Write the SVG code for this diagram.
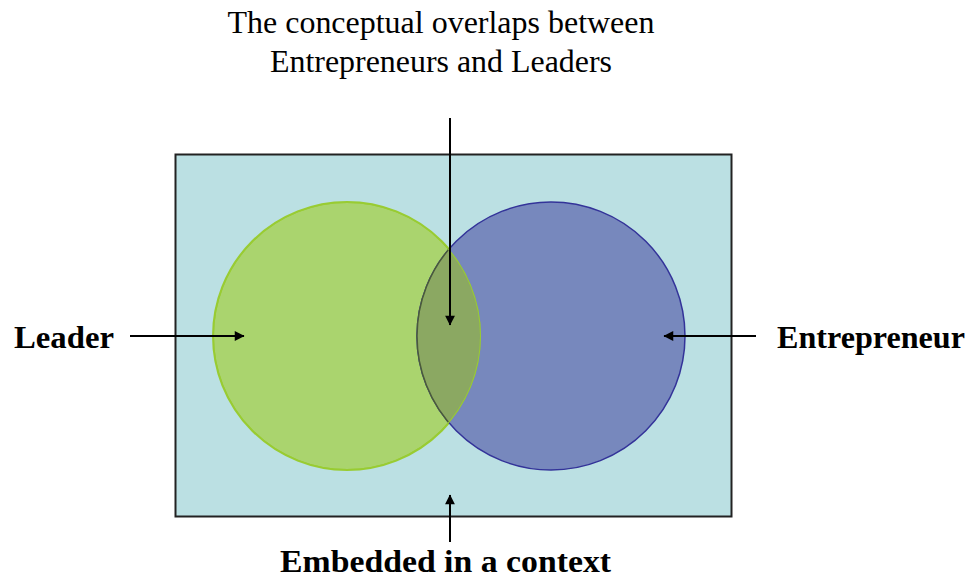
<svg xmlns="http://www.w3.org/2000/svg" width="973" height="579" viewBox="0 0 973 579">
<style>
.t{font-family:"Liberation Serif","Times New Roman",serif;fill:#000}
.b{font-weight:bold;font-size:32px}
.n{font-size:31px}
.c{stroke:#000;stroke-width:2;fill:none;marker-end:url(#ah)}
</style>
<defs>
<marker id="ah" viewBox="0 0 10 10" refX="9" refY="5" markerWidth="7" markerHeight="7" orient="auto" markerUnits="userSpaceOnUse" overflow="visible">
<path d="M0,0 L10,5 L0,10 z" fill="#000" transform="scale(1.4) translate(-3,-1.45)"/>
</marker>
<clipPath id="gc"><circle cx="347" cy="336" r="134"/></clipPath>
</defs>
<rect width="973" height="579" fill="#fff"/>
<g id="context">
<rect x="175.5" y="154.5" width="556" height="362" fill="#BBE0E3" stroke="#222" stroke-width="2"/>
</g>
<g id="leader-circle">
<circle cx="347" cy="336" r="134" fill="#AAD46E" stroke="#99CC33" stroke-width="2"/>
</g>
<g id="entrepreneur-circle">
<circle cx="551" cy="336" r="134" fill="#7788BD" stroke="#333399" stroke-width="1.5"/>
</g>
<g id="overlap">
<circle cx="551" cy="336" r="134" fill="#8BA862" stroke="#4a5a3a" stroke-width="1.5" clip-path="url(#gc)"/>
<circle cx="347" cy="336" r="134" fill="none" stroke="#99CC33" stroke-width="2" clip-path="url(#gc)"/>
</g>
<g id="connectors">
<line class="c" x1="450" y1="118" x2="450" y2="325"/>
<line class="c" x1="130" y1="336" x2="244" y2="336"/>
<line class="c" x1="756" y1="336" x2="664" y2="336"/>
<line class="c" x1="450" y1="542" x2="450" y2="495"/>
</g>
<g id="labels">
<text class="t n" x="441" y="33" text-anchor="middle" textLength="427" lengthAdjust="spacingAndGlyphs">The conceptual overlaps between</text>
<text class="t n" x="441" y="72" text-anchor="middle" textLength="342" lengthAdjust="spacingAndGlyphs">Entrepreneurs and Leaders</text>
<text class="t b" x="14" y="348" textLength="100" lengthAdjust="spacingAndGlyphs">Leader</text>
<text class="t b" x="777" y="348" textLength="188" lengthAdjust="spacingAndGlyphs">Entrepreneur</text>
<text class="t b" x="280" y="572" textLength="331" lengthAdjust="spacingAndGlyphs">Embedded in a context</text>
</g>
</svg>
